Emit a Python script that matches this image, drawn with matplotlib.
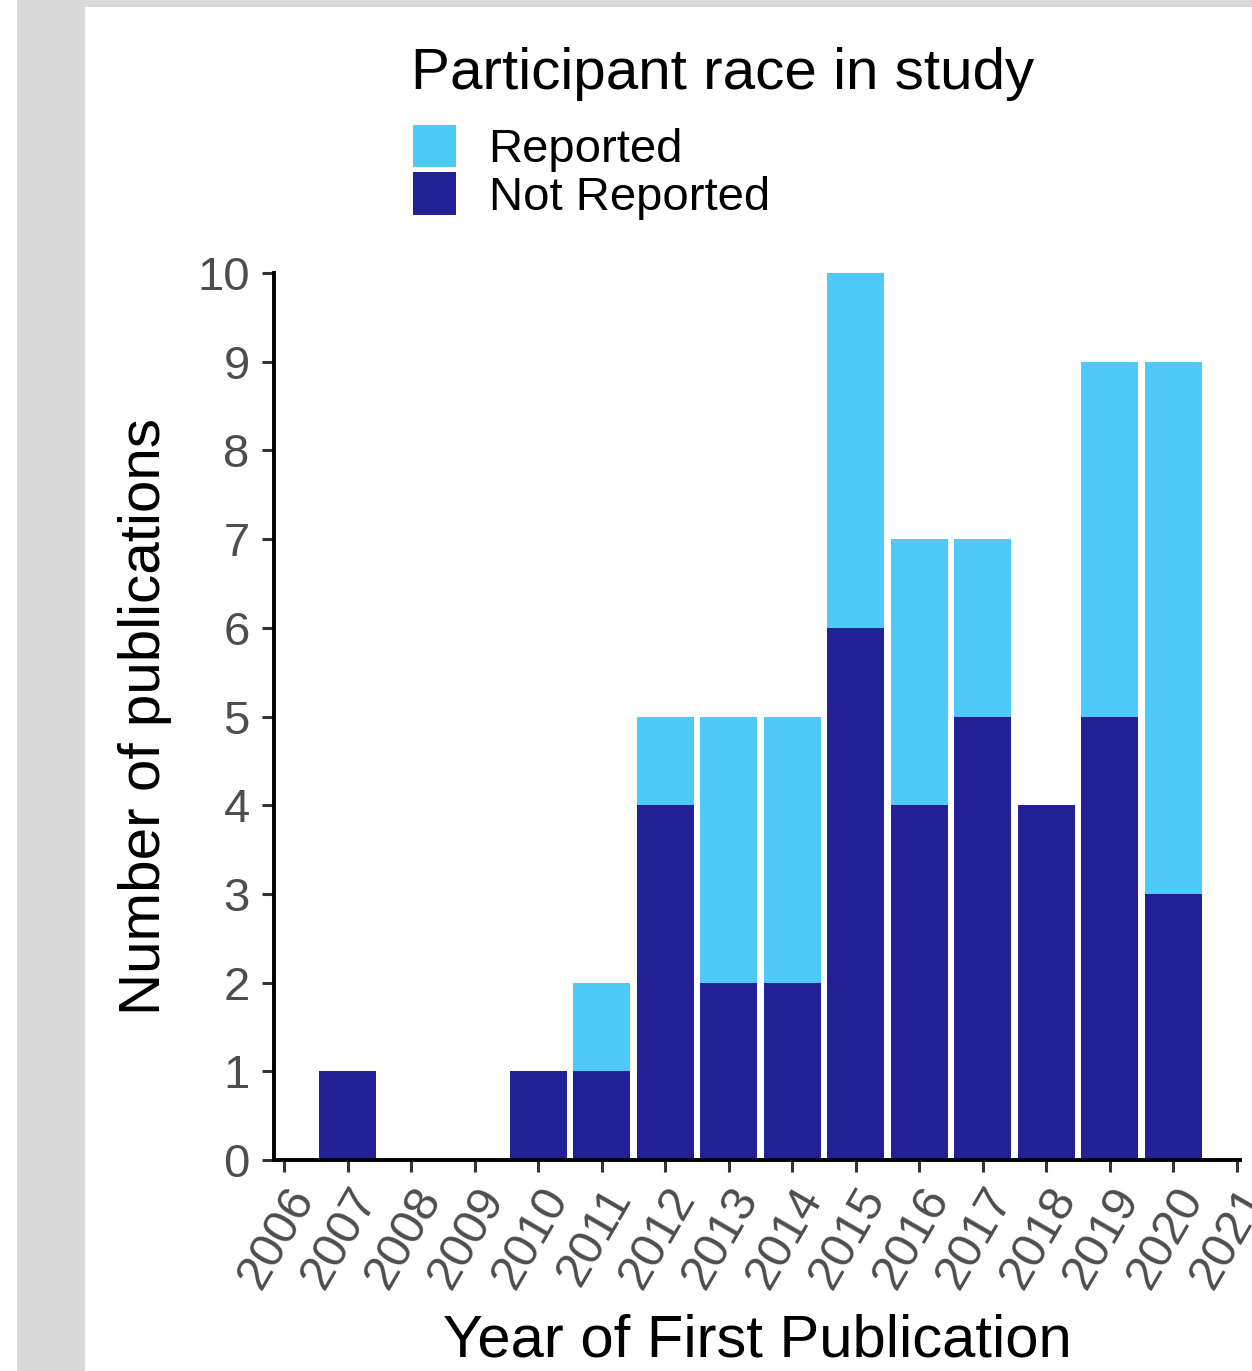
import matplotlib
matplotlib.use("Agg")
from matplotlib import pyplot as plt
from matplotlib.patches import Rectangle, Patch

years = [2007, 2010, 2011, 2012, 2013, 2014, 2015, 2016, 2017, 2018, 2019, 2020]
not_reported = [1, 1, 1, 4, 2, 2, 6, 4, 5, 4, 5, 3]
reported = [0, 0, 1, 1, 3, 3, 4, 3, 2, 0, 4, 6]
tick_years = list(range(2006, 2022))
y_ticks = list(range(0, 11))

light = "#4FC9F5"
dark = "#231F95"

plt.rcParams["font.family"] = ["Liberation Sans", "DejaVu Sans"]

W, H = 1252, 1371
fig = plt.figure(figsize=(W / 100, H / 100), dpi=100)

# grey page margins
fig.patches.append(Rectangle((17 / W, 0), (85 - 17) / W, 1, transform=fig.transFigure,
                             facecolor="#D9D9D9", edgecolor="none", zorder=-10))
fig.patches.append(Rectangle((17 / W, 1 - 7 / H), 1, 7 / H, transform=fig.transFigure,
                             facecolor="#D9D9D9", edgecolor="none", zorder=-10))

ax = fig.add_axes([274 / W, 1 - 1160 / H, (1240 - 274) / W, (1160 - 273) / H])

ax.bar(years, not_reported, width=0.9, color=dark, label="Not Reported")
ax.bar(years, reported, width=0.9, bottom=not_reported, color=light, label="Reported")

ax.set_xlim(2005.84, 2021.05)
ax.set_ylim(0, 10)
ax.set_xticks(tick_years)
ax.set_yticks(y_ticks)
ax.set_xticklabels([str(y) for y in tick_years], rotation=60, ha="right", va="top",
                   rotation_mode="anchor")

for s in ["top", "right"]:
    ax.spines[s].set_visible(False)
for s in ["left", "bottom"]:
    ax.spines[s].set_linewidth(2.8)
    ax.spines[s].set_color("black")

ax.tick_params(axis="both", which="major", length=8.5, width=2.2, color="#333333",
               labelcolor="#4D4D4D", labelsize=34)
ax.tick_params(axis="x", pad=6, labelsize=35)
ax.tick_params(axis="y", pad=9)

ax.set_ylabel("Number of publications", fontsize=42, color="black", labelpad=18)
ax.set_xlabel("Year of First Publication", fontsize=43, color="black", labelpad=12)

fig.text(411 / W, 1 - 89 / H, "Participant race in study", fontsize=42,
         ha="left", va="baseline", color="black")

handles = [Patch(facecolor=light, label="Reported"),
           Patch(facecolor=dark, label="Not Reported")]
fig.legend(handles=handles, loc="upper left", bbox_to_anchor=(413 / W, 1 - 125 / H),
           frameon=False, fontsize=34, handlelength=0.9, handleheight=1.0,
           handletextpad=0.7, labelspacing=0.0, borderpad=0.0, borderaxespad=0.0)

fig.savefig("out.png", dpi=100, facecolor="white")
